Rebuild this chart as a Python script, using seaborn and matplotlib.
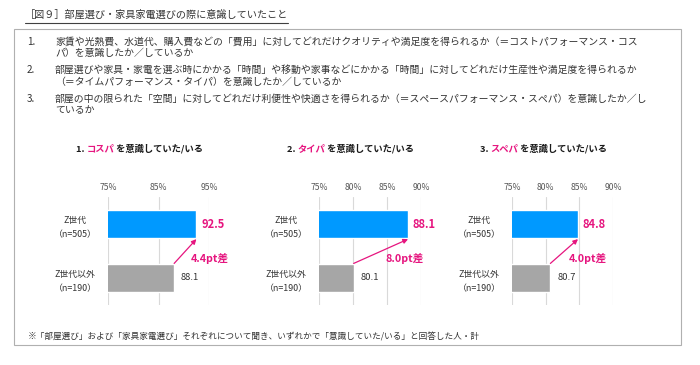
import matplotlib
matplotlib.use("Agg")
import matplotlib.pyplot as plt
import seaborn as sns
import pandas as pd
from matplotlib.patches import Rectangle
from matplotlib.lines import Line2D

sns.set_theme(style="white")
plt.rcParams["font.family"] = ["Noto Sans CJK JP", "DejaVu Sans"]

# --- データ ---
metric_names = ["コスパ", "タイパ", "スペパ"]
groups = ["Z世代\n（n=505）", "Z世代以外\n（n=190）"]
z_values = [92.5, 88.1, 84.8]
other_values = [88.1, 80.1, 80.7]
gap_labels = ["4.4pt差", "8.0pt差", "4.0pt差"]
x_ticks = [[75, 85, 95], [75, 80, 85, 90], [75, 80, 85, 90]]

fig_title = "［図９］部屋選び・家具家電選びの際に意識していたこと"
note_numbers = ["1.", "2.", "3."]
note_lines = [
    ["家賃や光熱費、水道代、購入費などの「費用」に対してどれだけクオリティや満足度を得られるか（＝コストパフォーマンス・コス",
     "パ）を意識したか／しているか"],
    ["部屋選びや家具・家電を選ぶ時にかかる「時間」や移動や家事などにかかる「時間」に対してどれだけ生産性や満足度を得られるか",
     "（＝タイムパフォーマンス・タイパ）を意識したか／しているか"],
    ["部屋の中の限られた「空間」に対してどれだけ利便性や快適さを得られるか（＝スペースパフォーマンス・スペパ）を意識したか／し",
     "ているか"],
]
footnote = "※「部屋選び」および「家具家電選び」それぞれについて聞き、いずれかで「意識していた/いる」と回答した人・計"

BLUE = "#0099FF"
GRAY = "#A6A6A6"
PINK = "#E6157F"
TEXT = "#333333"
DARK = "#1A1A1A"

W, H = 700, 365
fig = plt.figure(figsize=(7, 3.65), dpi=100)


def fx(px):
    return px / W


def fy(py):
    return 1 - py / H


# 枠と見出し
fig.patches.append(Rectangle((fx(14), fy(345)), fx(681) - fx(14), fy(29) - fy(345),
                             transform=fig.transFigure, fill=False, edgecolor="#B0B0B0", lw=0.8))
fig.text(fx(25), fy(15), fig_title, fontsize=7.3, color=TEXT, va="center", ha="left")
fig.add_artist(Line2D([fx(25), fx(288)], [fy(23), fy(23)], color="#404040", lw=0.8))

# 定義の注記
note_y = [(42, 53), (70, 82), (99, 110)]
for num, lines, ys in zip(note_numbers, note_lines, note_y):
    fig.text(fx(27), fy(ys[0]), num, fontsize=7.1, color=TEXT, va="center")
    for line, y in zip(lines, ys):
        fig.text(fx(55), fy(y), line, fontsize=7.1, color=TEXT, va="center")

fig.text(fx(28), fy(337), footnote, fontsize=6.2, color=TEXT, va="center")

# 3つの棒グラフ
axes_px = [(108, 209), (319, 421), (512, 613)]
top, bottom = 197, 305
bar_h = 0.52

for i, (x0, x1) in enumerate(axes_px):
    ax = fig.add_axes([fx(x0), fy(bottom), (x1 - x0) / W, (bottom - top) / H])
    df = pd.DataFrame({"group": groups, "value": [z_values[i], other_values[i]]})
    sns.barplot(data=df, x="value", y="group", hue="group", palette=[BLUE, GRAY],
                orient="h", width=bar_h, ax=ax, legend=False, saturation=1)
    ticks = x_ticks[i]
    ax.set_xlim(ticks[0], ticks[-1])
    ax.set_ylim(1.5, -0.5)
    ax.set_xticks(ticks)
    ax.set_xticklabels([f"{t}%" for t in ticks])
    ax.grid(axis="x", color="#D9D9D9", lw=0.8)
    ax.set_axisbelow(True)
    for s in ax.spines.values():
        s.set_visible(False)
    ax.set_xlabel("")
    ax.set_ylabel("")
    ax.tick_params(axis="x", top=True, labeltop=True, bottom=False, labelbottom=False,
                   length=0, pad=3.5, labelsize=6.2, labelcolor="#595959")
    ax.tick_params(axis="y", length=0, pad=23.5, labelsize=6.4, labelcolor=TEXT)
    for lbl in ax.get_yticklabels():
        lbl.set_ha("center")
        lbl.set_linespacing(1.8)

    # 数値ラベル
    ax.annotate(f"{z_values[i]:.1f}", xy=(z_values[i], 0), xytext=(3.5, 0),
                textcoords="offset points", ha="left", va="center",
                fontsize=8, fontweight="bold", color=PINK, annotation_clip=False)
    ax.annotate(f"{other_values[i]:.1f}", xy=(other_values[i], 1), xytext=(5, 0),
                textcoords="offset points", ha="left", va="center",
                fontsize=6.8, color=TEXT, annotation_clip=False)

    # 差の矢印
    ax.annotate("", xy=(z_values[i], bar_h / 2 + 0.02),
                xytext=(other_values[i], 1 - bar_h / 2 - 0.01),
                arrowprops=dict(arrowstyle="-|>", color=PINK, lw=0.9, mutation_scale=7,
                                shrinkA=0, shrinkB=0),
                annotation_clip=False)
    mid = (z_values[i] + other_values[i]) / 2
    ax.annotate(gap_labels[i], xy=(mid, 0.63), xytext=(3.6, 0), textcoords="offset points",
                ha="left", va="center", fontsize=7.7, fontweight="bold", color=PINK,
                annotation_clip=False)

    # 見出し（色分けした文字列を順に続けて配置）
    t0 = fig.text(fx(x0 - 32), fy(149), f"{i + 1}. ", fontsize=6.7, fontweight="bold",
                  color=DARK, va="center", ha="left")
    t1 = ax.annotate(metric_names[i], xycoords=t0, xy=(1, 0), va="bottom", ha="left",
                     fontsize=6.7, fontweight="bold", color=PINK)
    ax.annotate(" を意識していた/いる", xycoords=t1, xy=(1, 0), va="bottom", ha="left",
                fontsize=6.7, fontweight="bold", color=DARK)

fig.savefig("out.png", dpi=100)
